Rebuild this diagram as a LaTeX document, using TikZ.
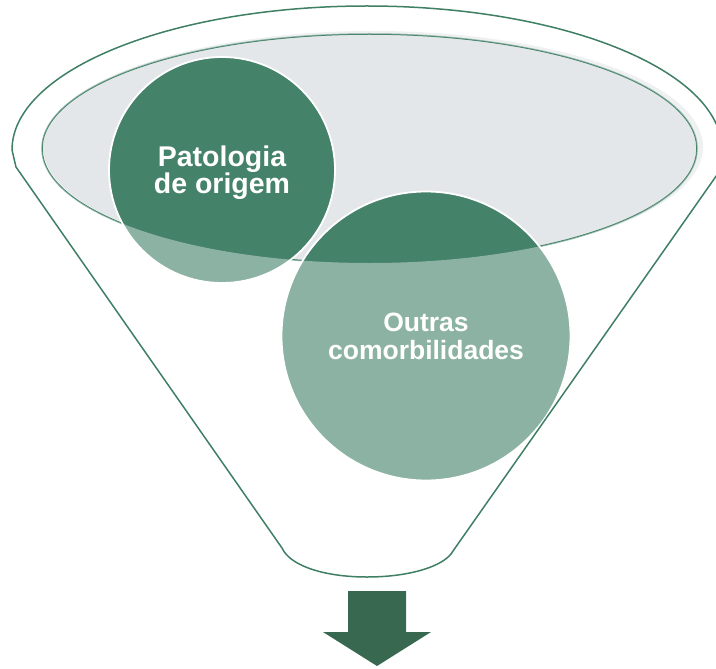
\documentclass[tikz,border=0pt]{standalone}
\usepackage{fontspec}
\setmainfont{Liberation Sans}
\usepackage{tikz}
\usetikzlibrary{positioning}

\definecolor{funnelgreen}{RGB}{63,127,100}
\definecolor{ballgreen}{RGB}{68,130,106}
\definecolor{arrowgreen}{RGB}{56,104,80}
\definecolor{mouthgray}{RGB}{228,231,234}

\newcommand{\funnelpath}{(12,150) arc[start angle=180, end angle=0, x radius=355bp, y radius=144bp]
	-- (719,172) -- (453,551) .. controls (445,566) and (410,577) .. (367,577)
	.. controls (325,577) and (290,566) .. (282,548) -- (16,167) -- cycle}

\begin{document}
\begin{tikzpicture}[x=1bp,y=-1bp, line join=round,
		rim/.style={draw=funnelgreen, line width=1.5bp},
		ball/.style={circle, fill=ballgreen, draw=white, line width=1.8bp, inner sep=0pt,
			text=white, align=center}]
		\useasboundingbox (0,0) rectangle (716,669);
		
		% mouth of the funnel
		\fill[mouthgray] (373,147) ellipse[x radius=330bp, y radius=116bp];
		\draw[rim] (369.5,148.5) ellipse[x radius=327.5bp, y radius=114.5bp];
		
		\node[ball, minimum size=226bp, text depth=0pt, font=\bfseries\fontsize{28.5bp}{27bp}\selectfont] (orig) at (222,170) {Patologia\\de origem};
		\node[ball, minimum size=289bp, font=\bfseries\fontsize{26.5bp}{28bp}\selectfont] (outras) at (426,336) {Outras\\comorbilidades};
		
		% body of the funnel
		\fill[white, opacity=0.39, even odd rule] \funnelpath
			(369.5,148.5) ellipse[x radius=327.5bp, y radius=114.5bp];
		\draw[rim] \funnelpath;
		
		\fill[arrowgreen] (348,591) -- (406,591) -- (406,632) -- (431,632) -- (377,666)
			-- (323,632) -- (348,632) -- cycle;
	\end{tikzpicture}
\end{document}
